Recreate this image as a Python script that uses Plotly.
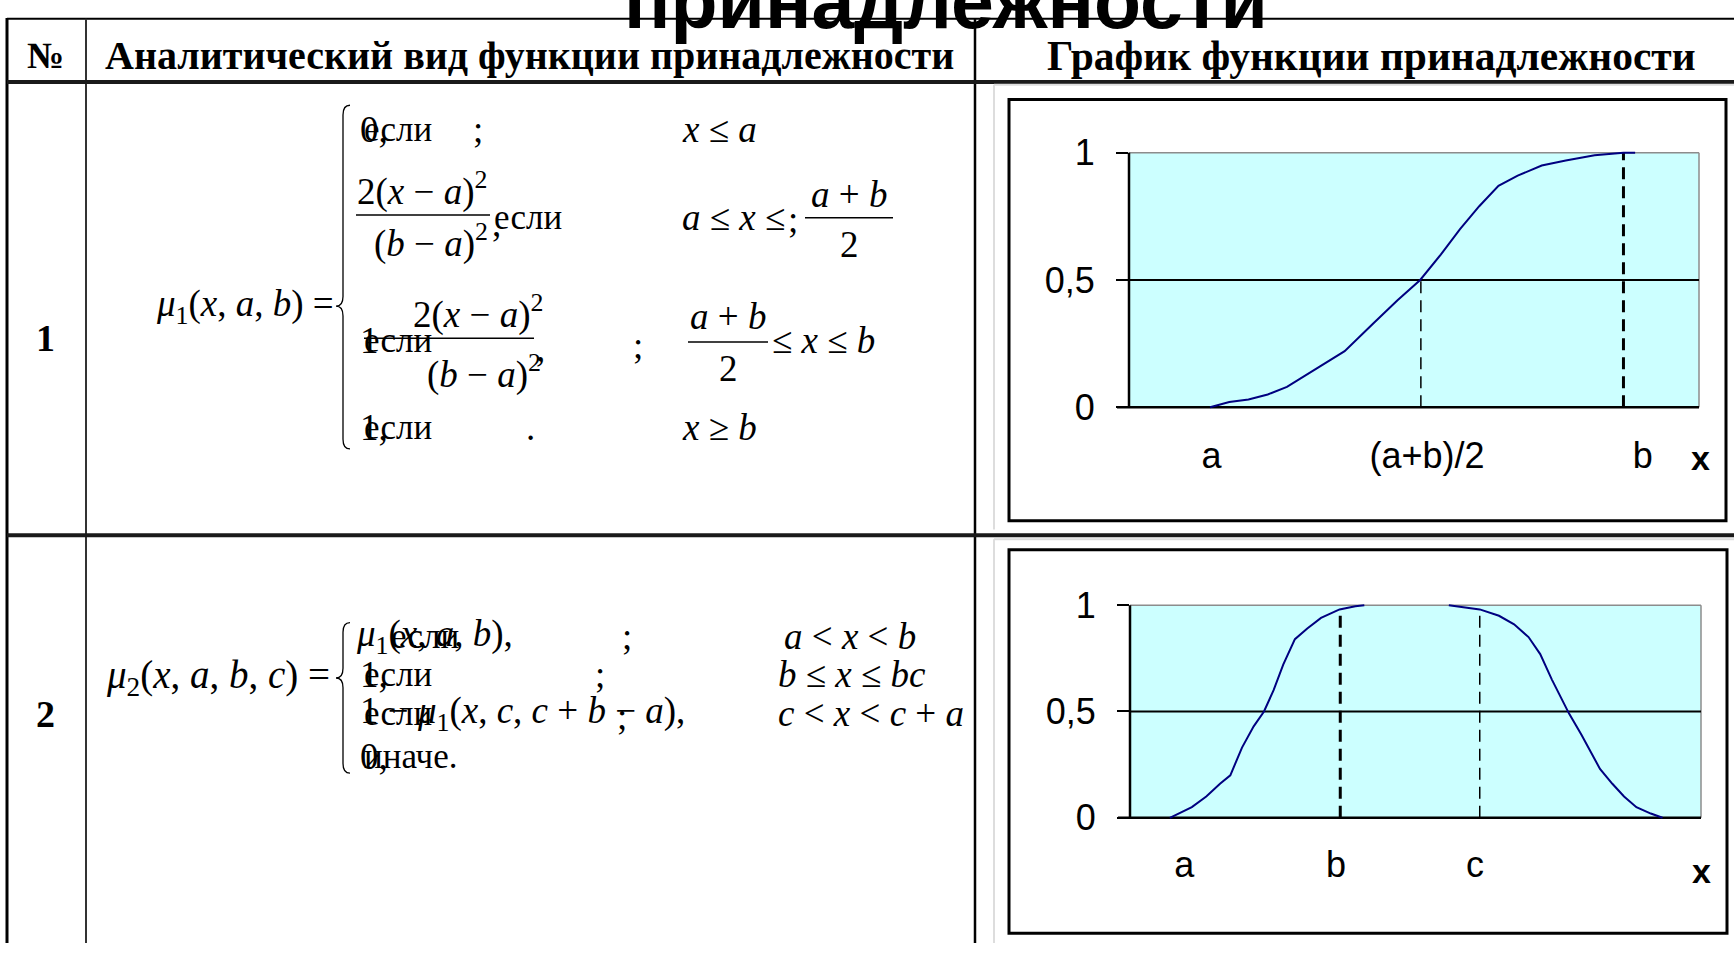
import plotly.graph_objects as go

W, H = 1734, 957

# ---------------- data ----------------
title_text = "принадлежности"
header_cols = ["№", "Аналитический вид функции принадлежности", "График функции принадлежности"]
row_numbers = ["1", "2"]

y_tick_vals = [0, 0.5, 1]
y_tick_text = ["0", "0,5", "1"]

# chart 1: S-shaped membership function
s_x = [1.98, 2.26, 2.54, 2.82, 3.10, 3.52, 3.94, 4.36, 4.71, 5.04, 5.34, 5.62, 5.90,
       6.18, 6.46, 6.81, 7.16, 7.58, 8.00, 8.17]
s_y = [0.0, 0.02, 0.03, 0.05, 0.08, 0.15, 0.22, 0.33, 0.42, 0.50, 0.60, 0.70, 0.79,
       0.87, 0.91, 0.95, 0.97, 0.99, 1.0, 1.0]
s_tick_pos = [2.0, 5.14, 8.28]
s_tick_text = ["a", "(a+b)/2", "b"]
s_mid = 5.05
s_b = 8.0

# chart 2: bell-shaped membership function
p_x = [1.38, 1.70, 1.91, 2.11, 2.26, 2.43, 2.60, 2.75, 2.89, 3.03, 3.20, 3.38, 3.58, 3.85,
       4.08, 4.21, None, 5.44, 5.69, 5.89, 6.17, 6.39, 6.60, 6.77, 6.94, 7.12, 7.19, 7.37,
       7.50, 7.64, 7.82, 7.99, 8.17, 8.38, 8.55]
p_y = [0.0, 0.05, 0.10, 0.16, 0.20, 0.33, 0.43, 0.50, 0.60, 0.72, 0.84, 0.89, 0.94, 0.98,
       0.995, 1.0, None, 1.0, 0.99, 0.98, 0.95, 0.91, 0.85, 0.77, 0.65, 0.53, 0.49, 0.39,
       0.31, 0.23, 0.16, 0.10, 0.05, 0.02, 0.0]
p_tick_pos = [1.59, 3.80, 5.82]
p_tick_text = ["a", "b", "c"]
p_b = 3.86
p_c = 5.89
p_guide_top = 0.98

# ---------------- helpers ----------------
SERIF = "Liberation Serif, Times New Roman, serif"
SANS = "Liberation Sans, Arial, sans-serif"
NAVY = "#000080"
CYAN = "#CCFFFF"

ann = []
shapes = []


def X(px):
    return px / W


def Y(py):
    return 1 - py / H


def txt(x, y, s, size=37, anchor="left", family=SERIF, yanchor="middle"):
    ann.append(dict(x=X(x), y=Y(y), xref="paper", yref="paper", text=s, showarrow=False,
                    xanchor=anchor, yanchor=yanchor,
                    font=dict(family=family, size=size, color="black")))


def pline(x0, y0, x1, y1, w=2, color="black"):
    shapes.append(dict(type="line", xref="paper", yref="paper", x0=X(x0), x1=X(x1),
                       y0=Y(y0), y1=Y(y1), line=dict(color=color, width=w)))


def brace(x, y0, yc, y1, r=10, w=7):
    p = (f"M {X(x + w)},{Y(y0)} Q {X(x)},{Y(y0)} {X(x)},{Y(y0 + r)} "
         f"L {X(x)},{Y(yc - r)} Q {X(x)},{Y(yc)} {X(x - w)},{Y(yc)} "
         f"Q {X(x)},{Y(yc)} {X(x)},{Y(yc + r)} L {X(x)},{Y(y1 - r)} "
         f"Q {X(x)},{Y(y1)} {X(x + w)},{Y(y1)}")
    shapes.append(dict(type="path", xref="paper", yref="paper", path=p,
                       line=dict(color="black", width=1.3)))


# ---------------- table grid ----------------
pline(7, 5, W, 5, 2)
pline(7, 4, 7, H, 3)
pline(86, 5, 86, H, 2, "#333")
pline(975, 5, 975, H, 2.5)
pline(7, 70, W, 70, 4, "#1a1a1a")
pline(7, 537, W, 537, 4, "#1a1a1a")

# pasted picture borders + chart frames
pline(994, 73, 994, 531, 2, "#dddddd")
pline(994, 73, W, 73, 2, "#dddddd")
pline(994, 541, 994, H, 2, "#dddddd")
pline(994, 541, W, 541, 2, "#dddddd")
shapes.append(dict(type="rect", xref="paper", yref="paper", x0=X(1009), x1=X(1726),
                   y0=Y(522), y1=Y(88), line=dict(color="black", width=3)))
shapes.append(dict(type="rect", xref="paper", yref="paper", x0=X(1009), x1=X(1727),
                   y0=Y(947), y1=Y(552), line=dict(color="black", width=3)))

# ---------------- headers ----------------
txt(946, 33, "<b>" + title_text + "</b>", 77, "center", SANS, "bottom")
txt(45, 43, "<b>" + header_cols[0] + "</b>", 37, "center")
txt(529, 43, "<b>" + header_cols[1] + "</b>", 40, "center")
txt(1371, 43, "<b>" + header_cols[2] + "</b>", 41.5, "center")
txt(45, 334, "<b>" + row_numbers[0] + "</b>", 38, "center")
txt(45, 721, "<b>" + row_numbers[1] + "</b>", 38, "center")

# ---------------- formulas ----------------
F = 37
E = 35
# row 1
txt(336, 301, "<i>μ</i><sub>1</sub>(<i>x</i>, <i>a</i>, <i>b</i>) =", F, "right")
brace(343, 94, 301, 448)
txt(358, 119, "0,", F)
txt(362, 119, "если", E)
txt(478, 119, ";", F, "center")
txt(680, 119, "<i>x</i> ≤ <i>a</i>", F)

txt(422, 180, "2(<i>x</i> − <i>a</i>)<sup>2</sup>", F, "center")
pline(356, 207, 490, 207, 1.5)
txt(431, 234, "(<i>b</i> − <i>a</i>)<sup>2</sup>", F, "center")
txt(490, 216, ",", F)
txt(492, 210, "если", E)
txt(680, 210, "<i>a</i> ≤ <i>x</i> ≤", F)
txt(793, 212, ";", F, "center")
txt(849, 186, "<i>a</i> + <i>b</i>", F, "center")
pline(805, 210, 893, 210, 1.5)
txt(849, 237, "2", F, "center")

txt(358, 336, "1", F)
txt(362, 336, "если", E)
txt(478, 307, "2(<i>x</i> − <i>a</i>)<sup>2</sup>", F, "center")
pline(364, 334, 534, 334, 1.5)
txt(484, 369, "(<i>b</i> − <i>a</i>)<sup>2</sup>", F, "center")
txt(540, 345, ",", F, "center")
txt(638, 341, ";", F, "center")
txt(728, 312, "<i>a</i> + <i>b</i>", F, "center")
pline(688, 338, 768, 338, 1.5)
txt(728, 365, "2", F, "center")
txt(770, 336, "≤ <i>x</i> ≤ <i>b</i>", F)

txt(358, 426, "1,", F)
txt(362, 426, "если", E)
txt(530, 426, ".", F, "center")
txt(680, 426, "<i>x</i> ≥ <i>b</i>", F)

# row 2
txt(332, 684, "<i>μ</i><sub>2</sub>(<i>x</i>, <i>a</i>, <i>b</i>, <i>c</i>) =", 39, "right")
brace(343, 627, 684, 782)
txt(354, 641, "<i>μ</i><sub>1</sub>(<i>x</i>, <i>a</i>, <i>b</i>),", F)
txt(389, 641, "если", E)
txt(627, 641, ";", F, "center")
txt(782, 641, "<i>a</i> &lt; <i>x</i> &lt; <i>b</i>", F)

txt(358, 680, "1,", F)
txt(362, 680, "если", E)
txt(600, 680, ";", F, "center")
txt(776, 680, "<i>b</i> ≤ <i>x</i> ≤ <i>bc</i>", F)

txt(358, 721, "1 − <i>μ</i><sub>1</sub>(<i>x</i>, <i>c</i>, <i>c</i> + <i>b</i> − <i>a</i>),", F)
txt(362, 721, "если", E)
txt(622, 724, ";", F, "center")
txt(776, 721, "<i>c</i> &lt; <i>x</i> &lt; <i>c</i> + <i>a</i>", F)

txt(358, 765, "0,", F)
txt(362, 765, "иначе.", E)

# x-axis name labels of the two charts
txt(1700, 457, "<b>x</b>", 34, "center", SANS)
txt(1701, 883, "<b>x</b>", 34, "center", SANS)


# ---------------- charts ----------------
def chart_shapes(xr, yr):
    xd = xr + " domain"
    shapes.append(dict(type="rect", xref=xd, yref=yr, x0=0, x1=1, y0=0, y1=1,
                       fillcolor=CYAN, line=dict(width=0), layer="below"))
    shapes.append(dict(type="line", xref=xd, yref=yr, x0=0, x1=1, y0=1, y1=1,
                       line=dict(color="#8c8c8c", width=1.5), layer="below"))
    shapes.append(dict(type="line", xref=xd, yref=yr, x0=1, x1=1, y0=0, y1=1,
                       line=dict(color="#8c8c8c", width=1.5), layer="below"))
    shapes.append(dict(type="line", xref=xd, yref=yr, x0=0, x1=1, y0=0.5, y1=0.5,
                       line=dict(color="black", width=2), layer="below"))
    shapes.append(dict(type="line", xref=xd, yref=yr, x0=0, x1=0, y0=0, y1=1,
                       line=dict(color="black", width=2.5), layer="below"))
    shapes.append(dict(type="line", xref=xd, yref=yr, x0=-0.021, x1=1, y0=0, y1=0,
                       line=dict(color="black", width=2.5), layer="below"))


chart_shapes("x", "y")
chart_shapes("x2", "y2")

fig = go.Figure()
DASH = "12px,7px"
fig.add_trace(go.Scatter(x=[s_mid, s_mid], y=[0, 0.5], mode="lines",
                         line=dict(color="black", width=1.5, dash=DASH), xaxis="x", yaxis="y"))
fig.add_trace(go.Scatter(x=[s_b, s_b], y=[0, 1], mode="lines",
                         line=dict(color="black", width=3, dash=DASH), xaxis="x", yaxis="y"))
fig.add_trace(go.Scatter(x=s_x, y=s_y, mode="lines", line=dict(color=NAVY, width=2),
                         xaxis="x", yaxis="y"))

fig.add_trace(go.Scatter(x=[p_b, p_b], y=[0, p_guide_top], mode="lines",
                         line=dict(color="black", width=3, dash=DASH), xaxis="x2", yaxis="y2"))
fig.add_trace(go.Scatter(x=[p_c, p_c], y=[0, p_guide_top], mode="lines",
                         line=dict(color="black", width=1.5, dash=DASH), xaxis="x2", yaxis="y2"))
fig.add_trace(go.Scatter(x=p_x, y=p_y, mode="lines", line=dict(color=NAVY, width=2),
                         connectgaps=False, xaxis="x2", yaxis="y2"))

tick_font = dict(family=SANS, size=36, color="black")
xcommon = dict(showgrid=False, zeroline=False, showline=False, ticks="",
               tickfont=tick_font, ticklabelstandoff=16, fixedrange=True)
ycommon = dict(showgrid=False, zeroline=False, showline=False, ticks="outside",
               ticklen=12, tickwidth=2, tickcolor="black", tickfont=tick_font,
               ticklabelstandoff=14, tickvals=y_tick_vals, ticktext=y_tick_text,
               range=[-0.03, 1.03], fixedrange=True)

fig.update_layout(
    width=W, height=H, margin=dict(l=0, r=0, t=0, b=0),
    paper_bgcolor="white", plot_bgcolor="rgba(0,0,0,0)", showlegend=False,
    xaxis=dict(domain=[1129 / W, 1699 / W], range=[0.8, 9.1], anchor="y",
               tickvals=s_tick_pos, ticktext=s_tick_text, **xcommon),
    yaxis=dict(domain=[1 - 412.9 / H, 1 - 135.1 / H], anchor="x", **ycommon),
    xaxis2=dict(domain=[1130 / W, 1701 / W], range=[0.8, 9.11], anchor="y2",
                tickvals=p_tick_pos, ticktext=p_tick_text, **xcommon),
    yaxis2=dict(domain=[1 - 834.6 / H, 1 - 602.4 / H], anchor="x2", **ycommon),
    shapes=shapes, annotations=ann,
)

fig.write_html("out.html", config={"displayModeBar": False},
               post_script="document.body.style.margin='0px';"
                           "document.body.style.overflow='hidden';")
